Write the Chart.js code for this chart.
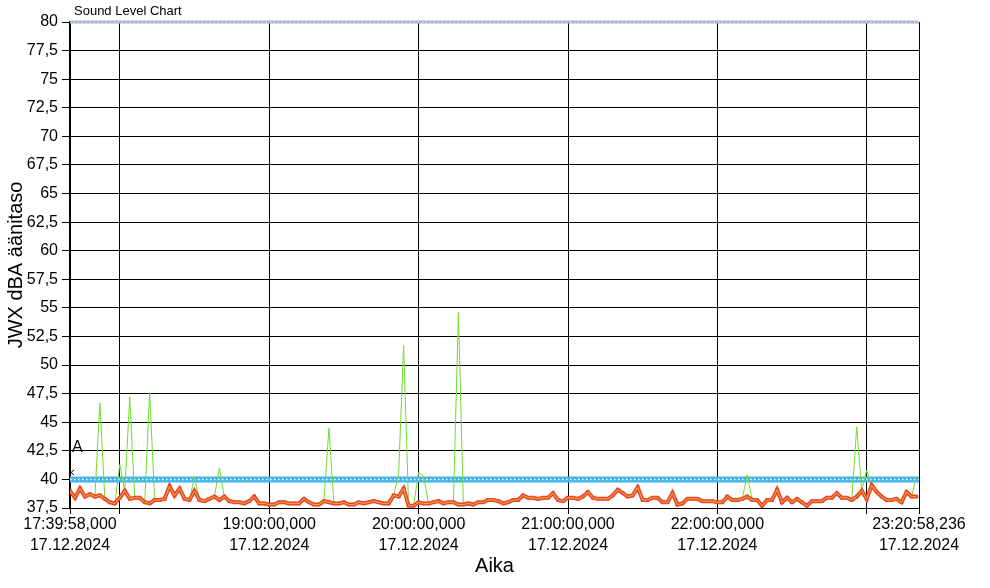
<!DOCTYPE html>
<html>
<head>
<meta charset="utf-8">
<script src="https://cdn.jsdelivr.net/npm/chart.js@4"></script>
<style>
  body { margin: 0; background: #fff; }
</style>
</head>
<body>
<canvas id="soundChart" width="990" height="588"></canvas>
<script>
// time axis: seconds after 17:39:58,000 ; one sample every 2 min
const startLabel = ['17:39:58,000', '17.12.2024']
const endLabel = ['23:20:58,236', '17.12.2024']
const endSeconds = 20460.236
const stepSeconds = 120
const hourTicks = [1202, 4802, 8402, 12002, 15602, 19202]
const hourLabels = ['', '19:00:00,000', '20:00:00,000', '21:00:00,000', '22:00:00,000', '']
const dateLabel = '17.12.2024'

// Leq (red / orange)
const leq = [
  39.0, 38.4, 39.2, 38.5, 38.7, 38.5, 38.6, 38.3, 38.0, 37.9,
  38.4, 39.0, 38.3, 38.4, 38.4, 38.0, 37.9, 38.2, 38.2, 38.3,
  39.4, 38.6, 39.2, 38.3, 38.2, 39.0, 38.2, 38.1, 38.3, 38.5,
  38.2, 38.5, 38.1, 38.0, 38.0, 37.9, 38.1, 38.5, 37.9, 37.9,
  37.8, 37.8, 38.0, 38.0, 37.9, 37.9, 37.9, 38.3, 38.0, 37.8,
  37.8, 38.1, 38.0, 37.9, 37.9, 38.0, 37.8, 37.8, 38.0, 37.9,
  38.0, 38.1, 38.0, 37.9, 37.9, 38.6, 38.5, 39.2, 37.7, 37.7,
  38.0, 37.9, 37.9, 38.0, 38.1, 37.9, 38.0, 38.0, 37.8, 37.8,
  37.9, 37.8, 38.0, 38.0, 38.2, 38.2, 38.1, 37.9, 38.0, 38.2,
  38.2, 38.6, 38.4, 38.4, 38.3, 38.4, 38.4, 38.8, 38.2, 38.1,
  38.4, 38.4, 38.3, 38.5, 38.9, 38.4, 38.3, 38.3, 38.3, 38.6,
  39.1, 38.8, 38.5, 38.6, 39.3, 38.2, 38.2, 38.4, 38.4, 38.0,
  38.0, 38.8, 37.8, 37.9, 38.3, 38.3, 38.3, 38.1, 38.1, 38.1,
  38.0, 38.0, 38.5, 38.2, 38.2, 38.3, 38.5, 38.2, 38.2, 37.7,
  38.2, 38.2, 39.1, 38.0, 38.4, 38.0, 38.3, 38.0, 37.7, 38.1,
  38.1, 38.1, 38.4, 38.4, 38.8, 38.4, 38.4, 38.2, 38.5, 39.0,
  38.3, 39.5, 38.9, 38.5, 38.2, 38.2, 38.3, 38.0, 38.9, 38.5,
  38.5
]

// Lmax (green)
const lmax = [
  39.0, 38.4, 39.2, 38.5, 38.7, 38.5, 46.7, 38.3, 38.0, 37.9,
  41.3, 39.0, 47.2, 38.4, 38.4, 38.0, 47.6, 38.2, 38.2, 38.3,
  39.4, 38.6, 39.2, 38.3, 38.2, 40.2, 38.2, 38.1, 38.3, 38.5,
  41.0, 38.5, 38.1, 38.0, 38.0, 37.9, 38.1, 38.5, 37.9, 37.9,
  37.8, 37.8, 38.0, 38.0, 37.9, 37.9, 37.9, 38.3, 38.0, 37.8,
  37.8, 38.1, 44.5, 37.9, 37.9, 38.0, 37.8, 37.8, 38.0, 37.9,
  38.0, 38.1, 38.0, 37.9, 37.9, 38.6, 40.5, 51.7, 37.7, 37.7,
  40.6, 40.3, 37.9, 38.0, 38.1, 37.9, 38.0, 38.0, 54.6, 37.8,
  37.9, 37.8, 38.0, 38.0, 38.2, 38.2, 38.1, 37.9, 38.0, 38.2,
  38.2, 38.6, 38.4, 38.4, 38.3, 38.4, 38.4, 38.8, 38.2, 38.1,
  38.4, 38.4, 38.3, 38.5, 38.9, 38.4, 38.3, 38.3, 38.3, 38.6,
  39.1, 38.8, 38.5, 38.6, 39.3, 38.2, 38.2, 38.4, 38.4, 38.0,
  38.0, 38.8, 37.8, 37.9, 38.3, 38.3, 38.3, 38.1, 38.1, 38.1,
  38.0, 38.0, 38.5, 38.2, 38.2, 38.3, 40.4, 38.2, 38.2, 37.7,
  38.2, 38.2, 39.1, 38.0, 38.4, 38.0, 38.3, 38.0, 37.7, 38.1,
  38.1, 38.1, 38.4, 38.4, 38.8, 38.4, 38.4, 38.2, 44.6, 39.0,
  40.8, 39.5, 38.9, 38.5, 38.2, 38.2, 38.3, 38.0, 38.9, 38.5,
  40.2
]

const limitValue = 40
const topValue = 80

const toPoints = arr => arr.map((v, i) => ({ x: i * stepSeconds, y: v }))
const flat = v => [{ x: 0, y: v }, { x: endSeconds, y: v }]

Chart.defaults.font.family = '"Liberation Sans", Arial, sans-serif'
Chart.defaults.color = '#000'

const overlayText = {
  id: 'overlayText',
  afterDraw(chart) {
    const ctx = chart.ctx
    ctx.save()
    ctx.fillStyle = '#000'
    ctx.textBaseline = 'middle'
    ctx.textAlign = 'left'
    ctx.font = '13px "Liberation Sans", Arial, sans-serif'
    ctx.fillText('Sound Level Chart', 74, 11)
    ctx.font = '16px "Liberation Sans", Arial, sans-serif'
    ctx.fillText('A', chart.chartArea.left + 2, 448)
    // small marker on the limit line
    ctx.strokeStyle = '#000'
    ctx.lineWidth = 1
    ctx.beginPath()
    ctx.moveTo(chart.chartArea.left + 4, 470)
    ctx.lineTo(chart.chartArea.left + 1, 472.5)
    ctx.lineTo(chart.chartArea.left + 4, 475)
    ctx.stroke()
    ctx.restore()
  }
}

// dataset 0 is painted last (on top)
new Chart(document.getElementById('soundChart'), {
  type: 'line',
  data: {
    datasets: [
      { data: flat(topValue), borderColor: '#ffffff', borderWidth: 1, borderDash: [1, 3], pointRadius: 0, clip: false },
      { data: flat(topValue), borderColor: '#a6b3cc', borderWidth: 3, pointRadius: 0, clip: false },
      { data: toPoints(leq), borderColor: '#f2b233', borderWidth: 1, pointRadius: 0 },
      { data: toPoints(leq), borderColor: '#e8472e', borderWidth: 4, pointRadius: 2.5, pointStyle: 'rect', pointBackgroundColor: '#e8472e', pointBorderWidth: 0 },
      { data: toPoints(lmax), borderColor: '#70dd30', borderWidth: 1, pointRadius: 0 },
      { data: flat(limitValue), borderColor: '#ffffff', borderWidth: 1.5, borderDash: [1.5, 2.5], pointRadius: 0 },
      { data: flat(limitValue), borderColor: '#3eb4ea', borderWidth: 6, pointRadius: 0 }
    ]
  },
  options: {
    responsive: false,
    animation: false,
    layout: { padding: { top: 22, right: 71, left: 0, bottom: 10 } },
    plugins: {
      legend: { display: false },
      tooltip: { enabled: false }
    },
    scales: {
      x: {
        type: 'linear',
        min: 0,
        max: endSeconds,
        afterBuildTicks: (scale) => {
          scale.ticks = [0, ...hourTicks, endSeconds].map(v => ({ value: v }))
        },
        afterFit: (scale) => { scale.height = 70 },
        grid: { color: '#000', lineWidth: 1, tickLength: 6 },
        border: { color: '#000', width: 1 },
        ticks: {
          autoSkip: false,
          maxRotation: 0,
          padding: 0,
          font: { size: 16, lineHeight: 1.3 },
          color: '#000',
          callback: (value) => {
            if (value === 0) return startLabel
            if (value === endSeconds) return endLabel
            const i = hourTicks.indexOf(value)
            if (i < 0 || hourLabels[i] === '') return ''
            return [hourLabels[i], dateLabel]
          }
        },
        title: {
          display: true,
          text: 'Aika',
          font: { size: 20 },
          color: '#000',
          padding: { top: 0, bottom: 0 }
        }
      },
      y: {
        min: 37.5,
        max: 80,
        afterFit: (scale) => { scale.width = 70 },
        grid: { color: '#000', lineWidth: 1, tickLength: 8 },
        border: { color: '#000', width: 2 },
        ticks: {
          stepSize: 2.5,
          padding: 4,
          font: { size: 16 },
          color: '#000',
          callback: (v) => (Math.round(v * 10) / 10).toString().replace('.', ',')
        },
        title: {
          display: true,
          text: 'JWX dBA äänitaso',
          font: { size: 20 },
          color: '#000',
          padding: { top: 4, bottom: 0 }
        }
      }
    }
  },
  plugins: [overlayText]
})
</script>
</body>
</html>
